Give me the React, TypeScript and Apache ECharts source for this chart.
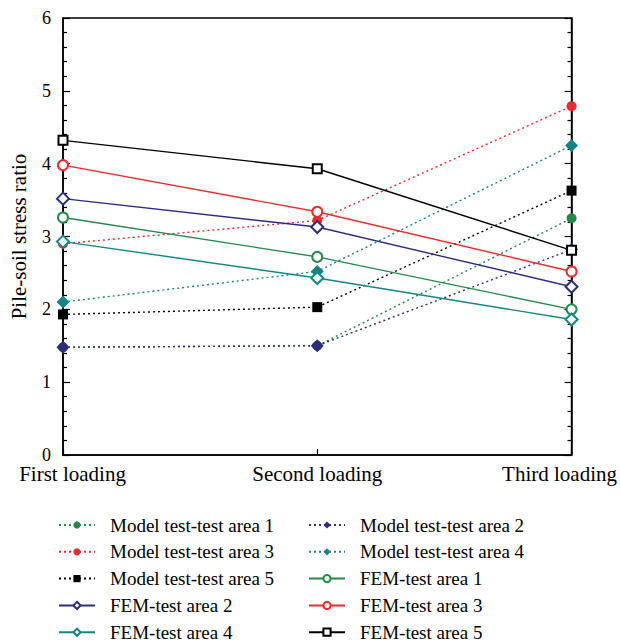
import React, { useEffect, useRef } from "react";
import * as echarts from "echarts";

const categories = ["First loading", "Second loading", "Third loading"];
const yTicks = [0, 1, 2, 3, 4, 5, 6];

const model1 = [1.48, 1.5, 3.25];
const model2 = [1.48, 1.5, 2.82];
const model3 = [2.9, 3.22, 4.79];
const model4 = [2.1, 2.52, 4.25];
const model5 = [1.93, 2.03, 3.63];
const fem1 = [3.26, 2.72, 2.0];
const fem2 = [3.52, 3.13, 2.31];
const fem3 = [3.98, 3.34, 2.52];
const fem4 = [2.93, 2.43, 1.86];
const fem5 = [4.32, 3.93, 2.81];

const GREEN = "#22894a";
const NAVY = "#2c2e7c";
const RED = "#ee2a2d";
const TEAL = "#138585";
const BLACK = "#000000";

const FONT = "Liberation Serif";

function modelSeries(name: string, data: number[], color: string, symbol: string, size: number) {
  return {
    name,
    type: "line",
    data,
    symbol,
    symbolSize: size,
    showSymbol: true,
    itemStyle: { color },
    lineStyle: { color, width: 1.4, type: [2, 3] },
    emphasis: { disabled: true },
  };
}

function femSeries(name: string, data: number[], color: string, symbol: string, size: number) {
  return {
    name,
    type: "line",
    data,
    symbol,
    symbolSize: size,
    showSymbol: true,
    itemStyle: { color, borderColor: color, borderWidth: 1.4 },
    lineStyle: { color, width: 1.4, type: "solid" },
    emphasis: { disabled: true },
  };
}

export default function App() {
  const ref = useRef<HTMLDivElement>(null);
  useEffect(() => {
    if (!ref.current) return;
    const chart = echarts.init(ref.current, null, { renderer: "svg" });
    const legendCommon = {
      orient: "vertical",
      padding: 0,
      height: 140,
      itemWidth: 36,
      itemHeight: 9,
      itemGap: 6.8,
      textStyle: {
        fontFamily: FONT,
        fontSize: 19,
        color: "#000",
        lineHeight: 20,
        padding: [0, 0, 0, 10],
      },
      selectedMode: false,
    };
    chart.setOption({
      animation: false,
      backgroundColor: "#ffffff",
      grid: {
        left: 59,
        right: 42,
        top: 18,
        bottom: 188,
        show: true,
        borderColor: "#000",
        borderWidth: 1.5,
      },
      legend: [
        {
          ...legendCommon,
          left: 58,
          top: 515,
          data: [
            "Model test-test area 1",
            "Model test-test area 3",
            "Model test-test area 5",
            "FEM-test area 2",
            "FEM-test area 4",
          ],
        },
        {
          ...legendCommon,
          left: 308,
          top: 515,
          data: [
            "Model test-test area 2",
            "Model test-test area 4",
            "FEM-test area 1",
            "FEM-test area 3",
            "FEM-test area 5",
          ],
        },
      ],
      xAxis: {
        type: "category",
        data: categories,
        boundaryGap: false,
        axisLine: { lineStyle: { color: "#000", width: 1.5 } },
        axisTick: { inside: true, length: 6, lineStyle: { color: "#000", width: 1.2 } },
        axisLabel: {
          interval: 0,
          margin: 8,
          color: "#000",
          fontFamily: FONT,
          fontSize: 21,
          formatter: (v: string, i: number) =>
            i === 0 ? `{a|${v}}` : i === categories.length - 1 ? `{c|${v}}` : `{b|${v}}`,
          rich: {
            a: { fontFamily: FONT, fontSize: 21, color: "#000", padding: [0, 0, 0, 19] },
            b: { fontFamily: FONT, fontSize: 21, color: "#000" },
            c: { fontFamily: FONT, fontSize: 21, color: "#000", padding: [0, 24, 0, 0] },
          },
        },
        splitLine: { show: false },
      },
      yAxis: [
        {
          type: "value",
          min: yTicks[0],
          max: yTicks[yTicks.length - 1],
          interval: 1,
          name: "Pile-soil stress ratio",
          nameLocation: "middle",
          nameGap: 34,
          nameTextStyle: { fontFamily: FONT, fontSize: 21, color: "#000" },
          axisLine: { show: true, lineStyle: { color: "#000", width: 1.5 } },
          axisTick: { show: true, inside: true, length: 7, lineStyle: { color: "#000", width: 1.2 } },
          minorTick: { show: true, splitNumber: 5, length: 4, lineStyle: { color: "#000", width: 1.2 } },
          axisLabel: { margin: 12, color: "#000", fontFamily: FONT, fontSize: 18 },
          splitLine: { show: false },
        },
        {
          type: "value",
          position: "right",
          min: yTicks[0],
          max: yTicks[yTicks.length - 1],
          interval: 1,
          axisLine: { show: true, lineStyle: { color: "#000", width: 1.5 } },
          axisTick: { show: true, inside: true, length: 7, lineStyle: { color: "#000", width: 1.2 } },
          minorTick: { show: true, splitNumber: 5, length: 4, lineStyle: { color: "#000", width: 1.2 } },
          axisLabel: { show: false },
          splitLine: { show: false },
        },
      ],
      series: [
        modelSeries("Model test-test area 1", model1, GREEN, "circle", 10),
        modelSeries("Model test-test area 2", model2, NAVY, "diamond", 13),
        modelSeries("Model test-test area 3", model3, RED, "circle", 10),
        modelSeries("Model test-test area 4", model4, TEAL, "diamond", 13),
        modelSeries("Model test-test area 5", model5, BLACK, "rect", 10),
        femSeries("FEM-test area 1", fem1, GREEN, "emptyCircle", 10),
        femSeries("FEM-test area 2", fem2, NAVY, "emptyDiamond", 12),
        femSeries("FEM-test area 3", fem3, RED, "emptyCircle", 10),
        femSeries("FEM-test area 4", fem4, TEAL, "emptyDiamond", 12),
        femSeries("FEM-test area 5", fem5, BLACK, "emptyRect", 9),
      ],
    });
    return () => chart.dispose();
  }, []);
  return (
    <div
      ref={ref}
      style={{ position: "absolute", left: 0, top: 0, width: 620, height: 643 }}
    />
  );
}
